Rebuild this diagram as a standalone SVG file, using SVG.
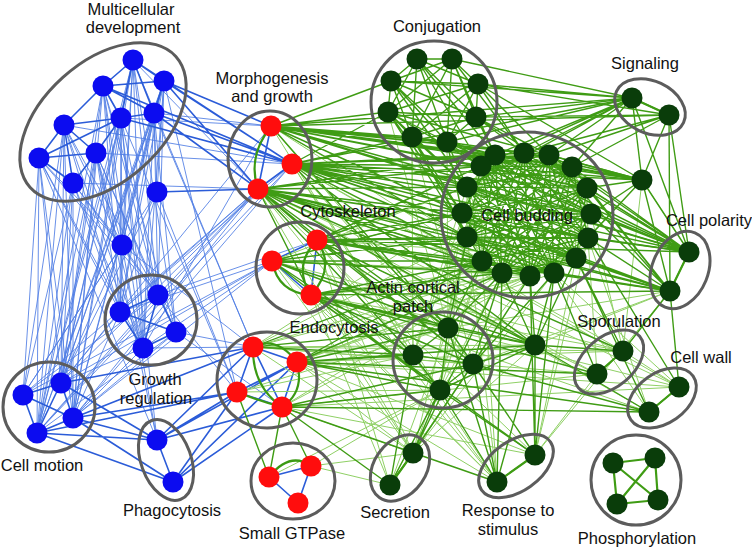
<svg xmlns="http://www.w3.org/2000/svg" width="752" height="548" viewBox="0 0 752 548">
<style>
.b{stroke:#2b5cd8;stroke-width:1.6;fill:none}
.bl{stroke:#4f7de4;stroke-width:1;fill:none;opacity:.85}
.g{stroke:#3f9c14;stroke-width:1.4;fill:none}
.gl{stroke:#8fd065;stroke-width:1;fill:none}
.ga{stroke:#3a9a12;stroke-width:2.2;fill:none}
.ring{fill:none;stroke:#5c5c5c;stroke-width:3}
.nb{fill:#0c0cf0}
.nr{fill:#ff0d0d}
.ng{fill:#0a3d0a}
text{font-family:"Liberation Sans",Arial,Helvetica,sans-serif;font-size:16.5px;fill:#111;text-anchor:middle}
</style>
<rect width="752" height="548" fill="#fff"/>
<g id="connectors">
<path class="bl" d="M133 60L158 295M133 60L120 312M133 60L143 348M133 60L61 383M133 60L73 418M133 60L37 433M133 60L122 245M164 81L158 295M164 81L120 312M164 81L143 348M164 81L61 383M164 81L73 418M164 81L37 433M164 81L122 245M103 86L158 295M103 86L120 312M103 86L143 348M103 86L61 383M103 86L73 418M103 86L37 433M103 86L122 245M154 113L158 295M154 113L120 312M154 113L143 348M154 113L61 383M154 113L73 418M154 113L37 433M154 113L122 245M121 118L158 295M121 118L120 312M121 118L143 348M121 118L61 383M121 118L73 418M121 118L37 433M121 118L122 245M64 125L158 295M64 125L120 312M64 125L143 348M64 125L61 383M64 125L73 418M64 125L37 433M64 125L122 245M96 153L158 295M96 153L120 312M96 153L143 348M96 153L61 383M96 153L73 418M96 153L37 433M96 153L122 245M39 158L158 295M39 158L120 312M39 158L143 348M39 158L61 383M39 158L73 418M39 158L37 433M39 158L122 245M73 183L158 295M73 183L120 312M73 183L143 348M73 183L61 383M73 183L73 418M73 183L37 433M73 183L122 245M133 60L176 332M154 113L176 332M96 153L176 332M39 158L23 395M64 125L23 395M73 183L23 395M121 118L157 440M103 86L176 332M157 192L164 81M157 192L154 113M157 192L61 383M157 192L23 395M157 192L120 312M122 245L158 295M122 245L120 312M122 245L61 383M122 245L23 395M258 189L61 383M258 189L73 418M258 189L120 312M258 189L37 433M258 189L158 295M258 189L23 395M292 164L73 418M292 164L120 312M271 126L61 383M271 126L143 348M292 164L37 433M154 113L253 347M164 81L237 392M133 60L253 347M121 118L237 392M272 261L61 383M272 261L23 395M272 261L120 312M272 261L143 348M272 261L73 418M317 240L158 295M120 312L61 383M143 348L61 383M143 348L73 418M120 312L73 418M158 295L23 395M176 332L73 418M176 332L37 433M158 295L37 433M176 332L253 347M158 295L237 392M176 332L282 407M143 348L253 347M154 113L271 126M121 118L271 126M133 60L258 189M96 153L292 164M73 183L258 189M64 125L292 164M157 192L237 392M122 245L253 347M122 245L157 440M96 153L157 440M39 158L157 440"/>
<path class="b" d="M133 60L164 81M133 60L103 86M133 60L121 118M133 60L154 113M103 86L164 81M103 86L154 113M103 86L121 118M164 81L154 113M121 118L154 113M64 125L39 158M64 125L96 153M64 125L73 183M39 158L96 153M39 158L73 183M96 153L73 183M64 125L121 118M39 158L121 118M96 153L121 118M64 125L103 86M164 81L292 164M154 113L292 164M133 60L292 164M121 118L292 164M103 86L292 164M164 81L271 126M154 113L258 189M157 192L258 189M271 126L258 189M292 164L258 189M164 81L258 189M158 295L120 312M158 295L176 332M120 312L176 332M120 312L143 348M176 332L143 348M158 295L143 348M61 383L23 395M61 383L73 418M23 395L73 418M23 395L37 433M73 418L37 433M61 383L37 433M157 440L173 482M157 440L73 418M157 440L61 383M157 440L37 433M173 482L73 418M173 482L37 433M253 347L237 392M253 347L282 407M237 392L282 407M297 362L282 407M253 347L297 362M237 392L297 362M253 347L157 440M237 392L157 440M237 392L173 482M282 407L173 482M297 362L157 440M253 347L73 418M237 392L73 418M253 347L61 383M237 392L37 433M297 362L173 482M282 407L157 440M317 240L272 261M272 261L311 295M317 240L311 295M269 477L311 466M269 477L298 503M311 466L298 503"/>
<path class="gl" d="M495 155L549 155M524 153L572 167M549 155L587 188M572 167L591 214M587 188L588 238M591 214L576 258M588 238L554 273M576 258L530 276M554 273L502 273M530 276L482 261M502 273L467 237M482 261L462 213M467 237L467 187M462 213L481 166M467 187L495 155M481 166L524 153M495 155L587 188M524 153L591 214M549 155L588 238M572 167L576 258M587 188L554 273M591 214L530 276M588 238L502 273M576 258L482 261M554 273L467 237M530 276L462 213M502 273L467 187M482 261L481 166M467 237L495 155M462 213L524 153M467 187L549 155M481 166L572 167M258 189L554 273M258 189L530 276M258 189L502 273M258 189L535 455M258 189L497 482M258 189L413 453M258 189L597 374M258 189L679 387M258 189L649 412M317 240L440 390M317 240L497 482M317 240L413 453M317 240L390 485M317 240L597 374M317 240L576 258M311 295L413 453M311 295L390 485M311 295L497 482M311 295L530 276M311 295L623 351M253 347L462 213M253 347L467 237M253 347L535 345M253 347L413 453M253 347L473 364M413 355L495 155M413 355L481 166M413 355L412 137M413 355L467 187M440 390L482 261M440 390L467 237M440 390L462 213M440 390L530 276M413 453L482 261M413 453L467 237M413 453L535 345M413 453L473 364M413 453L554 273M390 485L448 328M390 485L473 364M390 485L502 273M497 482L482 261M497 482L467 237M497 482L413 355M535 455L576 258M535 455L597 374M535 455L670 291M535 455L588 238M388 112L448 328M412 137L413 355M447 142L448 328M412 137L473 364M271 126L530 276M271 126L482 261M271 126L473 364M271 126L413 355M292 164L413 355M292 164L473 364M292 164L502 273M292 164L623 351M292 164L679 387M292 164L440 390M670 291L448 328M670 291L473 364M670 291L535 345M679 387L554 273M679 387L623 351M623 351L591 214M623 351L642 180M297 362L623 351M297 362L679 387M297 362L413 453M297 362L535 455M282 407L413 453M282 407L535 455M282 407L679 387M272 261L462 213M272 261L467 187M272 261L413 453M272 261L497 482M649 412L554 273M649 412L588 238M597 374L588 238M642 180L689 252M642 180L554 273M253 347L502 273M253 347L530 276M253 347L623 351M253 347L597 374M297 362L530 276M297 362L554 273M297 362L576 258M297 362L497 482M237 392L413 355M237 392L448 328M237 392L440 390M282 407L502 273M282 407L530 276M282 407L597 374M311 466L413 453M311 466L440 390M311 466L390 485M269 477L440 390M272 261L530 276M272 261L554 273M272 261L623 351M317 240L530 276M317 240L554 273M311 295L576 258M311 295L649 412M311 295L679 387"/>
<path class="g" d="M495 155L572 167M524 153L587 188M549 155L591 214M572 167L588 238M587 188L576 258M591 214L554 273M588 238L530 276M576 258L502 273M554 273L482 261M530 276L467 237M502 273L462 213M482 261L467 187M467 237L481 166M462 213L495 155M467 187L524 153M481 166L549 155M495 155L591 214M524 153L588 238M549 155L576 258M572 167L554 273M587 188L530 276M591 214L502 273M588 238L482 261M576 258L467 237M554 273L462 213M530 276L467 187M502 273L481 166M482 261L495 155M467 237L524 153M462 213L549 155M467 187L572 167M481 166L587 188M495 155L576 258M524 153L554 273M549 155L530 276M572 167L502 273M587 188L482 261M591 214L467 237M588 238L462 213M576 258L467 187M554 273L481 166M530 276L495 155M502 273L524 153M482 261L549 155M467 237L572 167M462 213L587 188M467 187L591 214M481 166L588 238M495 155L554 273M524 153L530 276M549 155L502 273M572 167L482 261M587 188L467 237M591 214L462 213M588 238L467 187M576 258L481 166M495 155L588 238M524 153L576 258M549 155L554 273M572 167L530 276M587 188L502 273M591 214L482 261M588 238L467 237M576 258L462 213M554 273L467 187M530 276L481 166M502 273L495 155M482 261L524 153M467 237L549 155M462 213L572 167M467 187L587 188M481 166L591 214"/>
<path class="g" d="M417 59L452 59M417 59L391 81M417 59L478 84M417 59L388 112M417 59L476 117M417 59L412 137M417 59L447 142M452 59L391 81M452 59L478 84M452 59L388 112M452 59L476 117M452 59L412 137M452 59L447 142M391 81L478 84M391 81L388 112M391 81L476 117M391 81L412 137M391 81L447 142M478 84L388 112M478 84L476 117M478 84L412 137M478 84L447 142M388 112L476 117M388 112L412 137M388 112L447 142M476 117L412 137M476 117L447 142M412 137L447 142M388 112L481 166M412 137L467 187M412 137L495 155M447 142L495 155M447 142L524 153M476 117L495 155M476 117L524 153M476 117L549 155M478 84L524 153M478 84L549 155M391 81L467 187M388 112L462 213M412 137L462 213M447 142L481 166M417 59L495 155M452 59L524 153M476 117L572 167M447 142L467 187M478 84L632 98M476 117L632 98M452 59L632 98M447 142L632 98M478 84L669 115M476 117L669 115M391 81L632 98M388 112L642 180M476 117L689 252M447 142L689 252M478 84L642 180M388 112L467 237M412 137L482 261M412 137L467 237M447 142L462 213M391 81L481 166M388 112L467 187M417 59L481 166M452 59L495 155"/>
<path class="g" d="M271 126L391 81M271 126L388 112M271 126L412 137M271 126L447 142M271 126L481 166M271 126L467 187M271 126L495 155M271 126L462 213M271 126L632 98M271 126L642 180M271 126L689 252M271 126L524 153M271 126L587 188M271 126L467 237M271 126L448 328M292 164L388 112M292 164L412 137M292 164L467 187M292 164L462 213M292 164L467 237M292 164L481 166M292 164L495 155M292 164L482 261M292 164L642 180M292 164L689 252M292 164L670 291M292 164L591 214M292 164L588 238M292 164L448 328M292 164L535 345M292 164L632 98M258 189L462 213M258 189L467 237M258 189L467 187M258 189L482 261M258 189L448 328M258 189L413 355M258 189L670 291M258 189L588 238M258 189L535 345M258 189L317 240M258 189L311 295M258 189L473 364M258 189L623 351M317 240L467 237M317 240L462 213M317 240L482 261M317 240L467 187M317 240L448 328M317 240L473 364M317 240L670 291M317 240L535 345M317 240L588 238M272 261L413 355M272 261L448 328M272 261L467 237M272 261L440 390M272 261L482 261M272 261L535 345M311 295L448 328M311 295L413 355M311 295L473 364M311 295L440 390M311 295L482 261M311 295L502 273M311 295L535 345M311 295L670 291M311 295L535 455M311 295L597 374M271 126L549 155M271 126L572 167M271 126L591 214M271 126L669 115M292 164L524 153M292 164L549 155M292 164L572 167M292 164L587 188M292 164L576 258M292 164L554 273M258 189L481 166M258 189L495 155M258 189L530 276M258 189L502 273M258 189L554 273M258 189L689 252M317 240L481 166M317 240L502 273M317 240L530 276M317 240L689 252M272 261L462 213M272 261L502 273"/>
<path class="g" d="M253 347L413 355M253 347L448 328M253 347L482 261M297 362L413 355M297 362L440 390M297 362L448 328M297 362L535 345M297 362L502 273M297 362L482 261M297 362L649 412M297 362L597 374M282 407L440 390M282 407L390 485M282 407L269 477M282 407L311 466M282 407L649 412M282 407L497 482M282 407L473 364M237 392L269 477M448 328L413 355M448 328L473 364M413 355L473 364M413 355L440 390M473 364L440 390M448 328L440 390M448 328L482 261M448 328L502 273M448 328L467 237M473 364L530 276M473 364L502 273M473 364L554 273M448 328L535 345M473 364L535 345M440 390L535 345M440 390L413 453M440 390L535 455M440 390L497 482M473 364L497 482M413 355L390 485M473 364L413 453M535 345L554 273M535 345L530 276M535 345L502 273M535 345L576 258M535 345L535 455M535 345L497 482M535 345L623 351M535 345L649 412M413 453L390 485M413 453L502 273M390 485L440 390M535 455L497 482M535 455L554 273M535 455L530 276M497 482L448 328M535 455L473 364M497 482L502 273M623 351L597 374M623 351L576 258M597 374L554 273M623 351L670 291M679 387L649 412M679 387L670 291M649 412L576 258M679 387L588 238M649 412L473 364"/>
<path class="g" d="M689 252L670 291M689 252L549 155M689 252L572 167M689 252L587 188M689 252L591 214M689 252L588 238M689 252L524 153M689 252L495 155M689 252L481 166M689 252L467 187M689 252L642 180M689 252L632 98M689 252L669 115M670 291L587 188M670 291L591 214M670 291L588 238M670 291L576 258M670 291L554 273M670 291L572 167M670 291L462 213M670 291L467 237M670 291L642 180M670 291L549 155M670 291L482 261M632 98L669 115M632 98L495 155M632 98L524 153M632 98L549 155M632 98L572 167M632 98L481 166M632 98L642 180M632 98L467 187M669 115L549 155M669 115L572 167M669 115L642 180M669 115L689 252M669 115L670 291M669 115L524 153M642 180L549 155M642 180L572 167M642 180L587 188M642 180L591 214M642 180L588 238M642 180L524 153M642 180L495 155M642 180L481 166M642 180L670 291"/>
<path class="g" style="stroke-width:2.2" d="M613 463L655 458M613 463L617 504M655 458L658 500M617 504L658 500M613 463L658 500M655 458L617 504M623 351L597 374M679 387L649 412M535 455L497 482M413 453L390 485M689 252L670 291M632 98L669 115"/>
<path class="ga" d="M271 126Q247 157 258 189M272 261Q278 293 311 295M317 240Q292 266 311 295M317 240Q336 268 311 295M253 347Q276 335 297 362M253 347Q252 386 282 407M237 392Q262 402 282 407M297 362Q305 392 282 407M269 477Q290 451 311 466"/>
</g>
<g id="cluster-multicellular"><ellipse class="ring" cx="103" cy="122" rx="98" ry="60" transform="rotate(-42 103 122)"/><text x="131" y="15">Multicellular</text><text x="133" y="33">development</text></g>
<g id="cluster-morphogenesis"><ellipse class="ring" cx="270" cy="159" rx="42" ry="48"/><text x="272" y="84">Morphogenesis</text><text x="272" y="102">and growth</text></g>
<g id="cluster-cytoskeleton"><ellipse class="ring" cx="300" cy="268" rx="44" ry="46"/><text x="348" y="217">Cytoskeleton</text></g>
<g id="cluster-endocytosis"><ellipse class="ring" cx="267" cy="380" rx="50" ry="48"/><text x="334" y="333">Endocytosis</text></g>
<g id="cluster-smallgtpase"><ellipse class="ring" cx="293" cy="481" rx="42" ry="38"/><text x="292" y="539">Small GTPase</text></g>
<g id="cluster-growth"><ellipse class="ring" cx="151" cy="320" rx="46" ry="45"/><text x="155" y="385">Growth</text><text x="156" y="404">regulation</text></g>
<g id="cluster-cellmotion"><ellipse class="ring" cx="49" cy="407" rx="46" ry="45"/><text x="42" y="471">Cell motion</text></g>
<g id="cluster-phagocytosis"><ellipse class="ring" cx="166" cy="460" rx="25" ry="42" transform="rotate(-20 166 460)"/><text x="172" y="516">Phagocytosis</text></g>
<g id="cluster-conjugation"><ellipse class="ring" cx="434" cy="102" rx="63" ry="61"/><text x="437" y="32">Conjugation</text></g>
<g id="cluster-cellbudding"><ellipse class="ring" cx="527" cy="215" rx="86" ry="83"/></g>
<g id="cluster-signaling"><ellipse class="ring" cx="650" cy="107" rx="37" ry="26" transform="rotate(25 650 107)"/><text x="645" y="69">Signaling</text></g>
<g id="cluster-cellpolarity"><ellipse class="ring" cx="680" cy="270" rx="28" ry="40" transform="rotate(22 680 270)"/><text x="709" y="226">Cell polarity</text></g>
<g id="cluster-actin"><ellipse class="ring" cx="443" cy="360" rx="50" ry="48"/><text x="413" y="293">Actin cortical</text><text x="413" y="312">patch</text></g>
<g id="cluster-sporulation"><ellipse class="ring" cx="609" cy="362" rx="40" ry="25" transform="rotate(-40 609 362)"/><text x="619" y="327">Sporulation</text></g>
<g id="cluster-cellwall"><ellipse class="ring" cx="662" cy="398" rx="38" ry="25" transform="rotate(-35 662 398)"/><text x="701" y="363">Cell wall</text></g>
<g id="cluster-secretion"><ellipse class="ring" cx="400" cy="468" rx="26" ry="36" transform="rotate(35 400 468)"/><text x="395" y="518">Secretion</text></g>
<g id="cluster-response"><ellipse class="ring" cx="516" cy="466" rx="42" ry="25" transform="rotate(-35 516 466)"/><text x="508" y="516">Response to</text><text x="508" y="535">stimulus</text></g>
<g id="cluster-phosphorylation"><ellipse class="ring" cx="636" cy="480" rx="45" ry="45"/><text x="637" y="544">Phosphorylation</text></g>
<g id="n-m1"><circle class="nb" cx="133" cy="60" r="10.5"/></g>
<g id="n-m2"><circle class="nb" cx="164" cy="81" r="10.5"/></g>
<g id="n-m3"><circle class="nb" cx="103" cy="86" r="10.5"/></g>
<g id="n-m4"><circle class="nb" cx="154" cy="113" r="10.5"/></g>
<g id="n-m5"><circle class="nb" cx="121" cy="118" r="10.5"/></g>
<g id="n-m6"><circle class="nb" cx="64" cy="125" r="10.5"/></g>
<g id="n-m7"><circle class="nb" cx="96" cy="153" r="10.5"/></g>
<g id="n-m8"><circle class="nb" cx="39" cy="158" r="10.5"/></g>
<g id="n-m9"><circle class="nb" cx="73" cy="183" r="10.5"/></g>
<g id="n-b1"><circle class="nb" cx="157" cy="192" r="10.5"/></g>
<g id="n-b2"><circle class="nb" cx="122" cy="245" r="10.5"/></g>
<g id="n-g1"><circle class="nb" cx="158" cy="295" r="10.5"/></g>
<g id="n-g2"><circle class="nb" cx="120" cy="312" r="10.5"/></g>
<g id="n-g3"><circle class="nb" cx="176" cy="332" r="10.5"/></g>
<g id="n-g4"><circle class="nb" cx="143" cy="348" r="10.5"/></g>
<g id="n-c1"><circle class="nb" cx="61" cy="383" r="10.5"/></g>
<g id="n-c2"><circle class="nb" cx="23" cy="395" r="10.5"/></g>
<g id="n-c3"><circle class="nb" cx="73" cy="418" r="10.5"/></g>
<g id="n-c4"><circle class="nb" cx="37" cy="433" r="10.5"/></g>
<g id="n-p1"><circle class="nb" cx="157" cy="440" r="10.5"/></g>
<g id="n-p2"><circle class="nb" cx="173" cy="482" r="10.5"/></g>
<g id="n-r1"><circle class="nr" cx="271" cy="126" r="10.5"/></g>
<g id="n-r2"><circle class="nr" cx="292" cy="164" r="10.5"/></g>
<g id="n-r3"><circle class="nr" cx="258" cy="189" r="10.5"/></g>
<g id="n-r4"><circle class="nr" cx="317" cy="240" r="10.5"/></g>
<g id="n-r5"><circle class="nr" cx="272" cy="261" r="10.5"/></g>
<g id="n-r6"><circle class="nr" cx="311" cy="295" r="10.5"/></g>
<g id="n-r7"><circle class="nr" cx="253" cy="347" r="10.5"/></g>
<g id="n-r8"><circle class="nr" cx="297" cy="362" r="10.5"/></g>
<g id="n-r9"><circle class="nr" cx="237" cy="392" r="10.5"/></g>
<g id="n-r10"><circle class="nr" cx="282" cy="407" r="10.5"/></g>
<g id="n-r11"><circle class="nr" cx="269" cy="477" r="10.5"/></g>
<g id="n-r12"><circle class="nr" cx="311" cy="466" r="10.5"/></g>
<g id="n-r13"><circle class="nr" cx="298" cy="503" r="10.5"/></g>
<g id="n-j1"><circle class="ng" cx="417" cy="59" r="10.5"/></g>
<g id="n-j2"><circle class="ng" cx="452" cy="59" r="10.5"/></g>
<g id="n-j3"><circle class="ng" cx="391" cy="81" r="10.5"/></g>
<g id="n-j4"><circle class="ng" cx="478" cy="84" r="10.5"/></g>
<g id="n-j5"><circle class="ng" cx="388" cy="112" r="10.5"/></g>
<g id="n-j6"><circle class="ng" cx="476" cy="117" r="10.5"/></g>
<g id="n-j7"><circle class="ng" cx="412" cy="137" r="10.5"/></g>
<g id="n-j8"><circle class="ng" cx="447" cy="142" r="10.5"/></g>
<g id="n-s1"><circle class="ng" cx="632" cy="98" r="10.5"/></g>
<g id="n-s2"><circle class="ng" cx="669" cy="115" r="10.5"/></g>
<g id="n-x1"><circle class="ng" cx="642" cy="180" r="10.5"/></g>
<g id="n-k1"><circle class="ng" cx="495" cy="155" r="10.5"/></g>
<g id="n-k2"><circle class="ng" cx="524" cy="153" r="10.5"/></g>
<g id="n-k3"><circle class="ng" cx="549" cy="155" r="10.5"/></g>
<g id="n-k4"><circle class="ng" cx="572" cy="167" r="10.5"/></g>
<g id="n-k5"><circle class="ng" cx="587" cy="188" r="10.5"/></g>
<g id="n-k6"><circle class="ng" cx="591" cy="214" r="10.5"/></g>
<g id="n-k7"><circle class="ng" cx="588" cy="238" r="10.5"/></g>
<g id="n-k8"><circle class="ng" cx="576" cy="258" r="10.5"/></g>
<g id="n-k9"><circle class="ng" cx="554" cy="273" r="10.5"/></g>
<g id="n-k10"><circle class="ng" cx="530" cy="276" r="10.5"/></g>
<g id="n-k11"><circle class="ng" cx="502" cy="273" r="10.5"/></g>
<g id="n-k12"><circle class="ng" cx="482" cy="261" r="10.5"/></g>
<g id="n-k13"><circle class="ng" cx="467" cy="237" r="10.5"/></g>
<g id="n-k14"><circle class="ng" cx="462" cy="213" r="10.5"/></g>
<g id="n-k15"><circle class="ng" cx="467" cy="187" r="10.5"/></g>
<g id="n-k16"><circle class="ng" cx="481" cy="166" r="10.5"/></g>
<g id="n-q1"><circle class="ng" cx="689" cy="252" r="10.5"/></g>
<g id="n-q2"><circle class="ng" cx="670" cy="291" r="10.5"/></g>
<g id="n-a1"><circle class="ng" cx="448" cy="328" r="10.5"/></g>
<g id="n-a2"><circle class="ng" cx="413" cy="355" r="10.5"/></g>
<g id="n-a3"><circle class="ng" cx="473" cy="364" r="10.5"/></g>
<g id="n-a4"><circle class="ng" cx="440" cy="390" r="10.5"/></g>
<g id="n-x2"><circle class="ng" cx="535" cy="345" r="10.5"/></g>
<g id="n-sp1"><circle class="ng" cx="623" cy="351" r="10.5"/></g>
<g id="n-sp2"><circle class="ng" cx="597" cy="374" r="10.5"/></g>
<g id="n-w1"><circle class="ng" cx="679" cy="387" r="10.5"/></g>
<g id="n-w2"><circle class="ng" cx="649" cy="412" r="10.5"/></g>
<g id="n-e1"><circle class="ng" cx="413" cy="453" r="10.5"/></g>
<g id="n-e2"><circle class="ng" cx="390" cy="485" r="10.5"/></g>
<g id="n-t1"><circle class="ng" cx="535" cy="455" r="10.5"/></g>
<g id="n-t2"><circle class="ng" cx="497" cy="482" r="10.5"/></g>
<g id="n-h1"><circle class="ng" cx="613" cy="463" r="10.5"/></g>
<g id="n-h2"><circle class="ng" cx="655" cy="458" r="10.5"/></g>
<g id="n-h3"><circle class="ng" cx="617" cy="504" r="10.5"/></g>
<g id="n-h4"><circle class="ng" cx="658" cy="500" r="10.5"/></g>
<g id="label-cellbudding"><text x="527" y="221">Cell budding</text></g>
</svg>
